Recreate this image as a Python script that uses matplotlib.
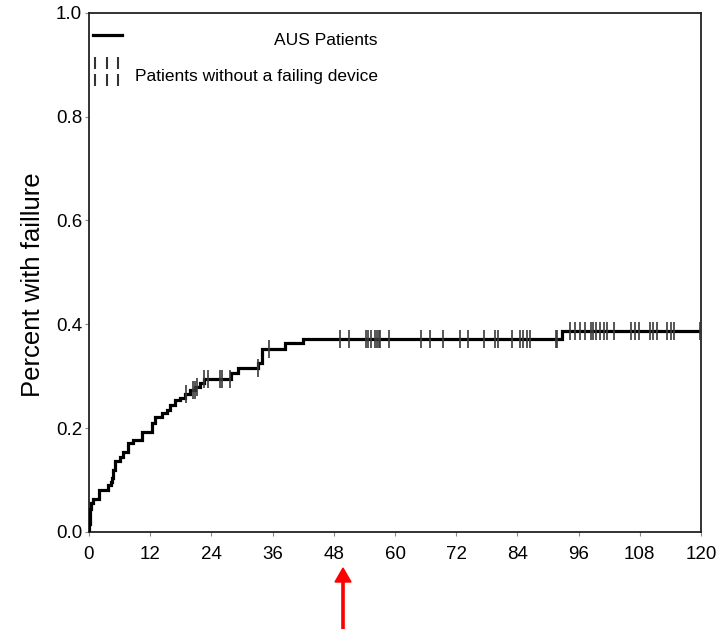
import numpy as np
import matplotlib
matplotlib.use("Agg")
import matplotlib.pyplot as plt
from matplotlib.patches import FancyArrow
from matplotlib import transforms

plt.rcParams['font.family'] = ['Liberation Sans', 'DejaVu Sans']

# Step times (months) and cumulative proportion failed after each step
step_times = [0.0, 0.05, 0.15, 0.25, 0.4, 0.8, 2.0, 3.8, 4.25, 4.5, 4.75, 5.1, 6.1, 6.7, 7.7,
              8.7, 10.3, 12.3, 12.9, 14.25, 15.2, 15.9, 16.9, 17.8, 18.8, 19.8, 20.8, 21.8,
              22.5, 27.8, 29.3, 33.2, 33.9, 38.4, 42.0, 92.7]
step_values = [0.0, 0.015, 0.03, 0.045, 0.055, 0.063, 0.081, 0.090, 0.096, 0.104, 0.119, 0.137,
               0.145, 0.155, 0.171, 0.177, 0.193, 0.209, 0.222, 0.229, 0.235, 0.245, 0.254,
               0.259, 0.266, 0.273, 0.280, 0.286, 0.294, 0.306, 0.315, 0.325, 0.352, 0.363,
               0.372, 0.387]
end_time = 120.0

# Censored patients (without a failing device)
censor_times = [19.0, 20.3, 20.7, 21.1, 22.6, 23.3, 25.7, 26.1, 27.7, 33.1, 35.3, 49.2, 50.9,
                54.3, 54.8, 55.3, 56.1, 56.5, 56.9, 57.1, 58.9, 65.1, 66.9, 69.4, 72.8, 74.4,
                77.4, 79.6, 80.2, 83.0, 84.6, 85.1, 85.8, 86.4, 91.5, 91.8, 94.3, 95.2, 96.3,
                97.2, 98.4, 98.9, 99.5, 100.2, 100.9, 101.5, 103.0, 106.2, 107.0, 107.8,
                110.0, 110.5, 111.3, 113.3, 114.1, 114.8, 119.9]

x_ticks = list(range(0, 121, 12))
y_ticks = [0.0, 0.2, 0.4, 0.6, 0.8, 1.0]
y_label = "Percent with faillure"
legend_labels = ["AUS Patients", "Patients without a failing device"]

fig = plt.figure(figsize=(7.21, 6.29), dpi=100)
ax = fig.add_axes([89/721, 97/629, 612/721, 519.3/629])

st = np.array(step_times + [end_time])
sv = np.array(step_values + [step_values[-1]])
ax.step(st, sv, where='post', color='black', lw=2.3, solid_joinstyle='miter', zorder=3)

ct = np.array(censor_times)
idx = np.searchsorted(np.array(step_times), ct, side='right') - 1
cp = np.array(step_values)[idx]
ax.plot(ct, cp, linestyle='none', marker='|', markersize=12.5, mew=1.2, color='#3a3a3a', zorder=4)

ax.set_xlim(0, 120)
ax.set_ylim(0, 1.0)
ax.set_xticks(x_ticks)
ax.set_xticklabels([str(v) for v in x_ticks])
ax.set_yticks(y_ticks)
ax.set_yticklabels([f"{v:.1f}" for v in y_ticks])
ax.tick_params(axis='both', labelsize=13.5, length=3, width=0.8, color='#888888', pad=2)
ax.tick_params(axis='x', pad=7)
for s in ax.spines.values():
    s.set_linewidth(1.3)
    s.set_color('#222222')

ax.set_ylabel(y_label, fontsize=18.5, labelpad=8)
ax.yaxis.label.set_y(0.476)

# Legend (manual, inside top-left)
ax.plot([0.0065, 0.054], [0.957, 0.957], transform=ax.transAxes, color='black', lw=2.3)
ax.text(0.472, 0.947, legend_labels[0], transform=ax.transAxes, ha='right', va='center', fontsize=12.5)
for fx in [0.0098, 0.0289, 0.0479]:
    for fy in [0.903, 0.870]:
        ax.plot([fx], [fy], transform=ax.transAxes, marker='|', markersize=8, mew=1.5,
                color='#333333', linestyle='none')
ax.text(0.472, 0.877, legend_labels[1], transform=ax.transAxes, ha='right', va='center', fontsize=12.5)

# Red arrow under the x axis
px = transforms.Affine2D().scale(1/100.0) + fig.dpi_scale_trans
arrow = FancyArrow(343, -2, 0, 629 - 568 + 2, width=2.2, head_width=16, head_length=14,
                   length_includes_head=True, color='red', transform=px)
fig.patches.append(arrow)

fig.savefig("out.png", dpi=100)
